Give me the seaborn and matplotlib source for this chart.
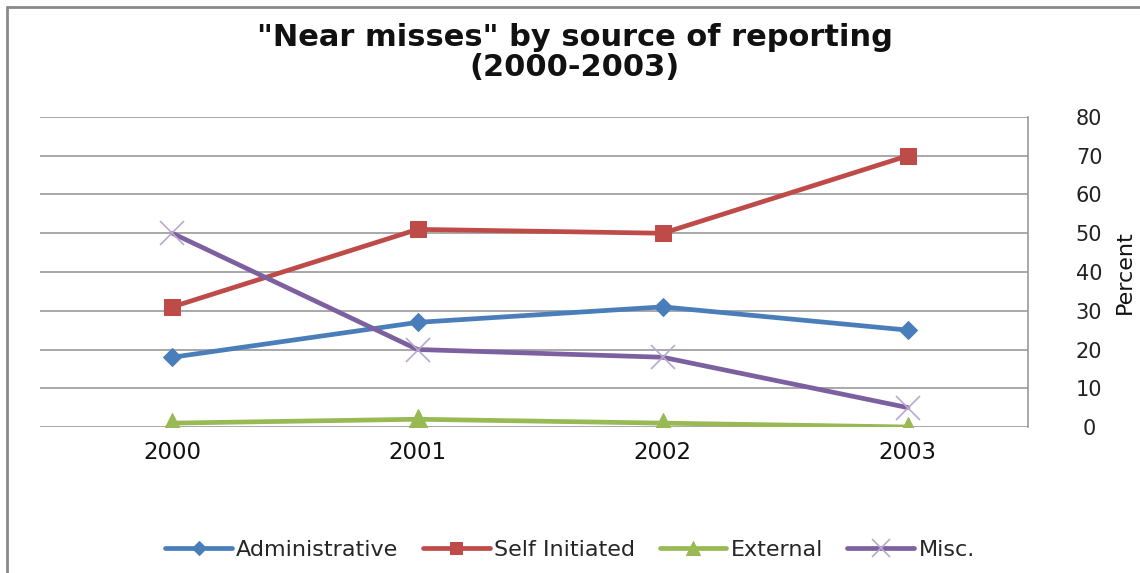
import matplotlib
matplotlib.use("Agg")
import matplotlib.pyplot as plt
import seaborn as sns
import pandas as pd

years = ["2000", "2001", "2002", "2003"]
administrative = [18, 27, 31, 25]
self_initiated = [31, 51, 50, 70]
external = [1, 2, 1, 0]
misc = [50, 20, 18, 5]

series_names = ["Administrative", "Self Initiated", "External", "Misc."]
series_values = [administrative, self_initiated, external, misc]
colors = ["#4A7EBB", "#BE4B48", "#98B954", "#7D60A0"]
markers = ["D", "s", "^", "x"]
marker_sizes = [9, 11, 14, 13]

rows = []
for name, vals in zip(series_names, series_values):
    for i, (yr, v) in enumerate(zip(years, vals)):
        rows.append({"pos": i, "year": yr, "value": v, "series": name})
df = pd.DataFrame(rows)

sns.set_theme(style="white")
plt.rcParams["font.family"] = ["DejaVu Sans"]

fig = plt.figure(figsize=(11.4, 5.73), dpi=100)
ax = fig.add_axes([40 / 1140, 1 - 427 / 573, (1028 - 40) / 1140, (427 - 117) / 573])

for name, col, mk, ms in zip(series_names, colors, markers, marker_sizes):
    sub = df[df["series"] == name]
    kw = dict(marker=mk, markersize=ms, markeredgecolor=col, markerfacecolor=col)
    if mk == "x":
        kw.update(markeredgecolor="#B9A9CF", markeredgewidth=1.2, markersize=17)
    sns.lineplot(data=sub, x="pos", y="value", ax=ax, color=col, linewidth=3.4,
                 label=name, **kw)

ax.set_xlim(-0.54, 3.49)
ax.set_ylim(0, 80)
ax.set_yticks(range(0, 81, 10))
ax.set_xticks(range(len(years)))
ax.set_xticklabels(years)
ax.yaxis.tick_right()
ax.grid(axis="y", color="#9A9A9A", linewidth=1.2)
ax.grid(axis="x", visible=False)
for side in ["left", "top", "bottom"]:
    ax.spines[side].set_visible(False)
ax.spines["right"].set_color("#9A9A9A")
ax.spines["right"].set_linewidth(1.2)
ax.tick_params(axis="y", length=0, pad=44, labelsize=15, colors="#222222")
ax.tick_params(axis="x", length=0, pad=10, labelsize=16.5, colors="#111111")
for lab in ax.get_yticklabels():
    lab.set_horizontalalignment("center")
ax.set_xlabel("")
ax.set_ylabel("")
ax.text((1125 - 40) / 988, 0.5, "Percent", transform=ax.transAxes, rotation=90,
        ha="center", va="center", fontsize=16, fontfamily="Liberation Sans Narrow",
        color="#111111")
ax.set_axisbelow(True)

ax.legend_.remove()
handles, labels = ax.get_legend_handles_labels()
fig.legend(handles, labels, loc="center", bbox_to_anchor=(570 / 1140, 1 - 550 / 573),
           ncol=4, frameon=False, fontsize=16, handlelength=3.0, handletextpad=0.2,
           columnspacing=1.1, markerscale=0.75)

fig.text(575 / 1140, 1 - 37 / 573, "\"Near misses\" by source of reporting",
         ha="center", va="center", fontsize=22, fontweight="bold", color="#111111")
fig.text(575 / 1140, 1 - 68 / 573, "(2000-2003)",
         ha="center", va="center", fontsize=22, fontweight="bold", color="#111111")

# outer chart frame
fig.add_artist(plt.Line2D([7 / 1140, 7 / 1140], [0, 1 - 7 / 573], transform=fig.transFigure,
                          color="#8A8A8A", linewidth=2))
fig.add_artist(plt.Line2D([7 / 1140, 1], [1 - 7 / 573, 1 - 7 / 573], transform=fig.transFigure,
                          color="#8A8A8A", linewidth=2))

fig.savefig("out.png", dpi=100, facecolor="white")
